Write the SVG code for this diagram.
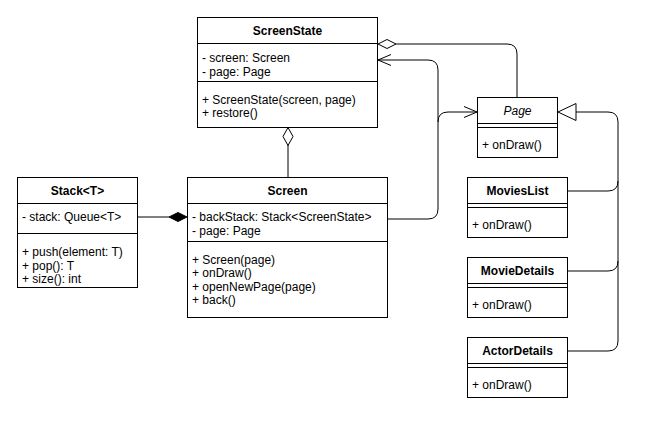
<svg xmlns="http://www.w3.org/2000/svg" width="659" height="424" viewBox="0 0 659 424">
<style>
  .box{fill:#fff;stroke:#000;stroke-width:1}
  .ln{fill:none;stroke:#000;stroke-width:1}
  .t{font-family:"Liberation Sans",Arial,sans-serif;font-size:12px;fill:#000}
  .h{font-weight:bold;text-anchor:middle}
  .i{font-style:italic;text-anchor:middle}
  .edge{fill:none;stroke:#000;stroke-width:1}
</style>
<rect width="659" height="424" fill="#fff"/>
<g id="connectors">
  <path class="edge" d="M396 44 H507 Q517 44 517 54 V97.5"/>
  <polygon points="378,44 387,39.5 396,44 387,48.5" fill="#fff" stroke="#000"/>
  <path class="edge" d="M388 219 H428 Q438 219 438 209 V70 Q438 60 428 60 H378"/>
  <path class="edge" d="M391 54.5 L378 60 L391 65.5"/>
  <path class="edge" d="M438 122 Q438 112 448 112 H477"/>
  <path class="edge" d="M464 106.5 L477 112 L464 117.5"/>
  <path class="edge" d="M568 191 H608 Q618 191 618 181 V122 Q618 112 608 112 H576"/>
  <path class="edge" d="M568 271 H608 Q618 271 618 261 V181"/>
  <path class="edge" d="M568 351 H608 Q618 351 618 341 V261"/>
  <polygon points="558,112 576,103.5 576,120.5" fill="#fff" stroke="#000"/>
  <path class="edge" d="M137.5 217 H169"/>
  <polygon points="169,217 178,212.5 187,217 178,221.5" fill="#000" stroke="#000"/>
  <path class="edge" d="M288 145 V177.5"/>
  <polygon points="288,127.5 293,136.5 288,145.5 283,136.5" fill="#fff" stroke="#000"/>
</g>
<g id="ScreenState">
  <rect class="box" x="197.5" y="17.5" width="180" height="110"/>
  <path class="ln" d="M197.5 43.5 H377.5 M197.5 81.5 H377.5"/>
  <text class="t h" x="287.5" y="35">ScreenState</text>
  <text class="t" x="202" y="62">- screen: Screen</text>
  <text class="t" x="202" y="76">- page: Page</text>
  <text class="t" x="202" y="103.5">+ ScreenState(screen, page)</text>
  <text class="t" x="202" y="117">+ restore()</text>
</g>
<g id="Page">
  <rect class="box" x="477.5" y="97.5" width="80" height="60"/>
  <path class="ln" d="M477.5 123.5 H557.5 M477.5 127.5 H557.5"/>
  <text class="t i" x="517.5" y="115">Page</text>
  <text class="t" x="482" y="149">+ onDraw()</text>
</g>
<g id="Stack">
  <rect class="box" x="17.5" y="177.5" width="120" height="110"/>
  <path class="ln" d="M17.5 203.5 H137.5 M17.5 233.5 H137.5"/>
  <text class="t h" x="77.5" y="195">Stack&lt;T&gt;</text>
  <text class="t" x="22" y="221">- stack: Queue&lt;T&gt;</text>
  <text class="t" x="22" y="256">+ push(element: T)</text>
  <text class="t" x="22" y="269.5">+ pop(): T</text>
  <text class="t" x="22" y="283">+ size(): int</text>
</g>
<g id="Screen">
  <rect class="box" x="187.5" y="177.5" width="200" height="140"/>
  <path class="ln" d="M187.5 203.5 H387.5 M187.5 241.5 H387.5"/>
  <text class="t h" x="287.5" y="195">Screen</text>
  <text class="t" x="192" y="221">- backStack: Stack&lt;ScreenState&gt;</text>
  <text class="t" x="192" y="235">- page: Page</text>
  <text class="t" x="192" y="263.5">+ Screen(page)</text>
  <text class="t" x="192" y="277">+ onDraw()</text>
  <text class="t" x="192" y="290.5">+ openNewPage(page)</text>
  <text class="t" x="192" y="304">+ back()</text>
</g>
<g id="MoviesList">
  <rect class="box" x="467.5" y="177.5" width="100" height="60"/>
  <path class="ln" d="M467.5 203.5 H567.5 M467.5 207.5 H567.5"/>
  <text class="t h" x="517.5" y="195">MoviesList</text>
  <text class="t" x="472" y="229">+ onDraw()</text>
</g>
<g id="MovieDetails">
  <rect class="box" x="467.5" y="257.5" width="100" height="60"/>
  <path class="ln" d="M467.5 283.5 H567.5 M467.5 287.5 H567.5"/>
  <text class="t h" x="517.5" y="275">MovieDetails</text>
  <text class="t" x="472" y="309">+ onDraw()</text>
</g>
<g id="ActorDetails">
  <rect class="box" x="467.5" y="337.5" width="100" height="60"/>
  <path class="ln" d="M467.5 363.5 H567.5 M467.5 367.5 H567.5"/>
  <text class="t h" x="517.5" y="355">ActorDetails</text>
  <text class="t" x="472" y="389">+ onDraw()</text>
</g>
</svg>
